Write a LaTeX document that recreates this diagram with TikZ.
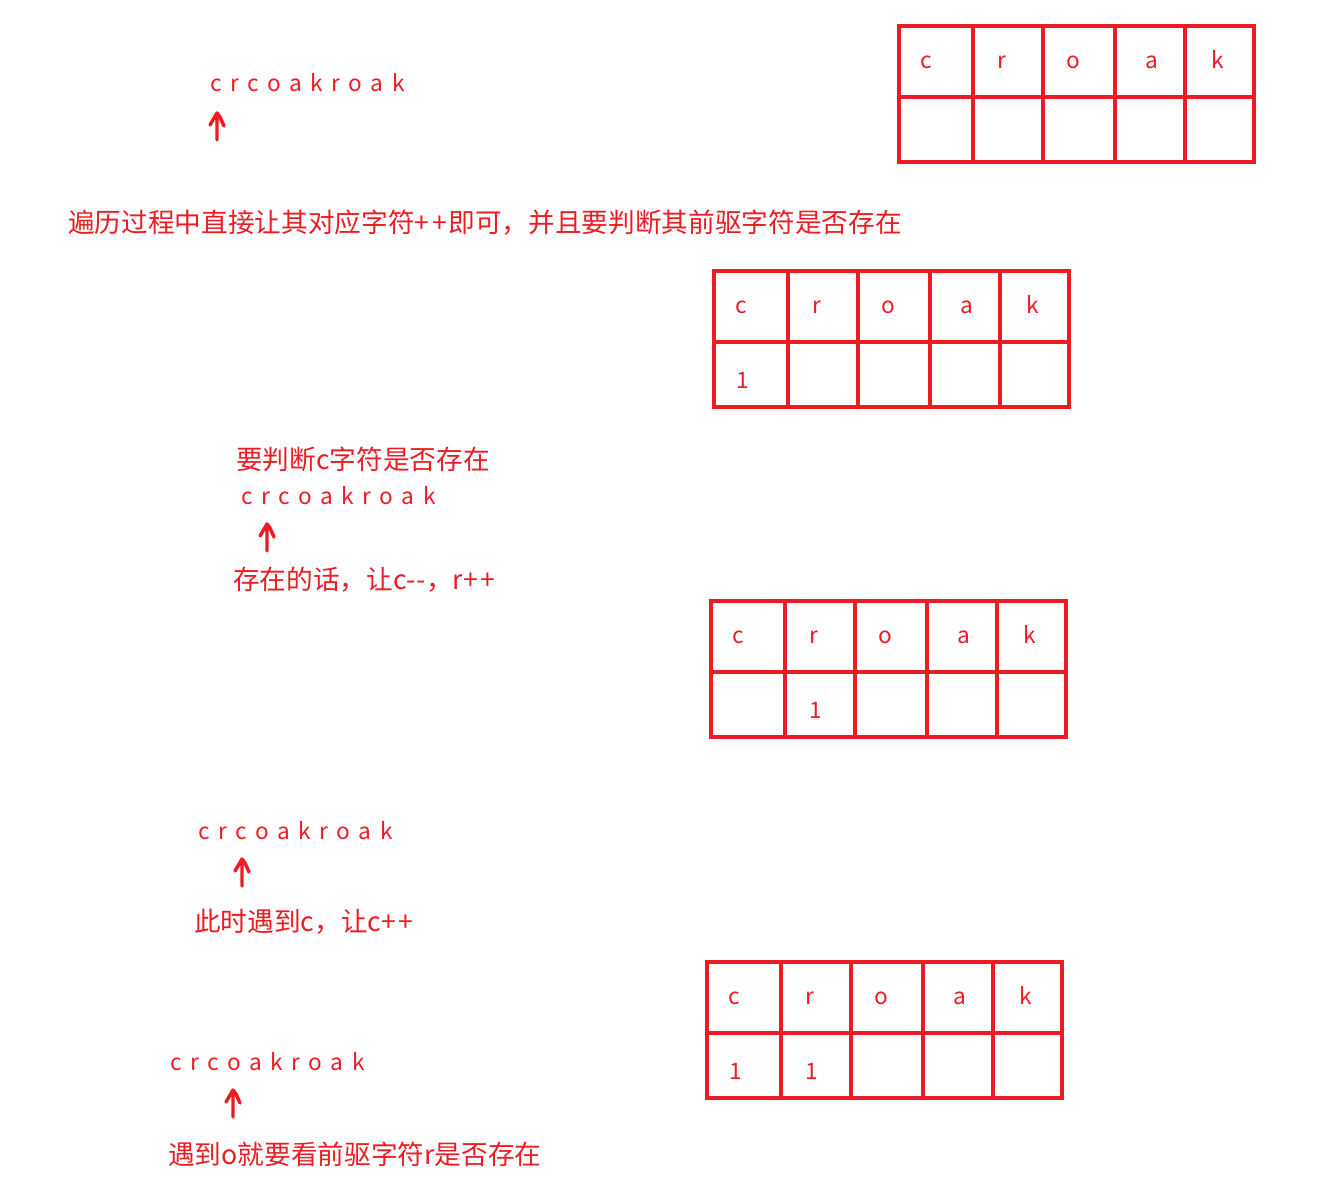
\documentclass[tikz,border=0pt]{standalone}
\usepackage{fontspec}
\setmainfont{Noto Sans CJK SC}

\definecolor{paintred}{HTML}{ED1C24}

\newcommand{\pp}{+\kern2pt+\kern1pt}

\tikzset{
	cell/.style={draw=paintred,line width=3pt,inner sep=0pt},
	toprow/.style={cell,minimum height=53.25pt},
	botrow/.style={cell,minimum height=48.75pt},
	cellchar/.style={anchor=base,inner sep=0pt,text=paintred,font=\fontsize{17}{20}\selectfont},
	word/.style={anchor=west,inner sep=0pt,text=paintred,
		font=\fontsize{17}{20}\selectfont\addfontfeature{LetterSpace=38}},
	note/.style={anchor=west,inner sep=0pt,text=paintred,font=\fontsize{20}{24}\selectfont},
	hand/.style={draw=paintred,line width=2.6pt,line cap=round,line join=round}
}

\begin{document}
\begin{tikzpicture}[x=0.75pt,y=-0.75pt]
	\useasboundingbox (0,0) rectangle (1328,1193);

	% the count tables
	\foreach \t/\x/\y/\va/\vb in {1/899/26//,2/714/271/1/,3/711/601//1,4/707/962/1/1}
	{
		\foreach \ch/\n/\l/\w/\tx [count=\i] in {c/\va/0/74/27,r/\vb/74/70/29,o//144/72/30,a//216/70/37,k//286/69/33}
		{
			\node[toprow,minimum width=\w*0.75pt] (t\t-\i) at (\x+\l+\w/2,\y+35.5) {};
			\node[botrow,minimum width=\w*0.75pt] (t\t-\i-v) at (\x+\l+\w/2,\y+103.5) {};
			\node[cellchar] (t\t-\i-c) at (\x+\l+\tx,\y+42) {\ch};
			\node[cellchar] (t\t-\i-n) at (\x+\l+\tx+2,\y+117) {\n};
		}
	}

	% the strings
	\node[word] (w1) at (210,83) {crcoakroak};
	\node[word] (w2) at (241,496) {crcoakroak};
	\node[word] (w3) at (198,831) {crcoakroak};
	\node[word] (w4) at (170,1062) {crcoakroak};

	% the hand drawn marks
	\foreach \n/\x/\y in {1/217/140,2/267/551,3/242/886,4/233/1117}
	{
		\coordinate (p\n) at (\x,\y);
		\draw[hand] (p\n) -- ++(0,-27) ++(-7,12) -- ++(7,-12) -- ++(3,4) -- ++(4,9);
	}

	% the notes
	\node[note] (n1) at (68,223) {遍历过程中直接让其对应字符\pp 即可，并且要判断其前驱字符是否存在};
	\node[note] (n2) at (236,459) {要判断c字符是否存在};
	\node[note] (n3) at (233,580) {存在的话，让c{-}\kern1pt{-}，r\pp};
	\node[note] (n4) at (194,922) {此时遇到c，让c\pp};
	\node[note] (n5) at (168,1154) {遇到o就要看前驱字符r是否存在};
\end{tikzpicture}
\end{document}
